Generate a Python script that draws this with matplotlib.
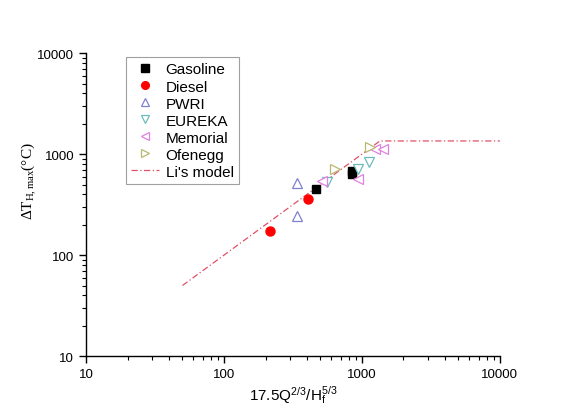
import matplotlib
matplotlib.use("Agg")
import matplotlib.pyplot as plt

plt.rcParams["font.family"] = ["Liberation Sans", "DejaVu Sans"]
plt.rcParams["mathtext.fontset"] = "custom"
plt.rcParams["mathtext.rm"] = "Liberation Serif"
plt.rcParams["mathtext.it"] = "Liberation Serif:italic"
plt.rcParams["mathtext.sf"] = "Liberation Sans"

# measured points: x = 17.5Q^(2/3)/Hf^(5/3), y = max temperature rise
gasoline_x = [468, 840, 845]
gasoline_y = [450, 680, 630]
diesel_x = [217, 409]
diesel_y = [173, 358]
pwri_x = [341, 341]
pwri_y = [517, 243]
eureka_x = [562, 929, 1122]
eureka_y = [528, 710, 828]
memorial_x = [517, 934, 1237, 1419]
memorial_y = [541, 565, 1122, 1122]
ofenegg_x = [643, 1135]
ofenegg_y = [710, 1172]

# Li's model: linear growth up to the ceiling temperature
model_x = [50, 1350, 10000]
model_y = [50, 1350, 1350]

fig = plt.figure(figsize=(5.7, 4.1), dpi=100)
ax = fig.add_axes([0.151, 0.129, 0.726, 0.739])

ax.plot(gasoline_x, gasoline_y, "s", color="black", ms=6, label="Gasoline", zorder=3)
ax.plot(diesel_x, diesel_y, "o", color="red", ms=6.5, label="Diesel", zorder=3)
ax.plot(pwri_x, pwri_y, "^", mfc="white", mec="#8080d0", mew=0.9, ms=7, label="PWRI", zorder=4)
ax.plot(eureka_x, eureka_y, "v", mfc="white", mec="#6cbcbc", mew=0.9, ms=7, label="EUREKA", zorder=4)
ax.plot(memorial_x, memorial_y, "<", mfc="white", mec="#e080e0", mew=0.9, ms=7, label="Memorial", zorder=4)
ax.plot(ofenegg_x, ofenegg_y, ">", mfc="white", mec="#b8b870", mew=0.9, ms=7, label="Ofenegg", zorder=4)
ax.plot(model_x, model_y, color="#e05068", lw=0.9, ls=(0, (5, 2, 1, 2)), label="Li's model", zorder=2)

ax.set_xscale("log")
ax.set_yscale("log")
ax.set_xlim(10, 10000)
ax.set_ylim(10, 10000)
ax.set_xticks([10, 100, 1000, 10000])
ax.set_xticklabels(["10", "100", "1000", "10000"])
ax.set_yticks([10, 100, 1000, 10000])
ax.set_yticklabels(["10", "100", "1000", "10000"])

for side in ["top", "right"]:
    ax.spines[side].set_visible(False)
for side in ["left", "bottom"]:
    ax.spines[side].set_linewidth(1.0)

ax.tick_params(which="major", direction="out", length=5, width=1, labelsize=9.5)
ax.tick_params(which="minor", direction="out", length=3, width=0.8)

ax.set_xlabel(r"17.5Q$^{\mathsf{2/3}}$/H$_{\mathsf{f}}^{\mathsf{5/3}}$", fontsize=11, labelpad=2)
ax.set_ylabel(r"$\Delta\mathrm{T}_{\mathrm{H,max}}$(°C)", fontsize=11,
              family=["Liberation Serif", "DejaVu Serif"])
ax.yaxis.set_label_coords(-0.115, 0.58)

leg = ax.legend(loc="upper left", bbox_to_anchor=(0.078, 1.012), fontsize=11,
                frameon=True, fancybox=False, edgecolor="#888888",
                handlelength=1.8, handletextpad=0.45, labelspacing=0.2,
                borderpad=0.35, markerscale=0.85)
leg.get_frame().set_linewidth(0.8)

fig.savefig("out.png", dpi=100, facecolor="white")
